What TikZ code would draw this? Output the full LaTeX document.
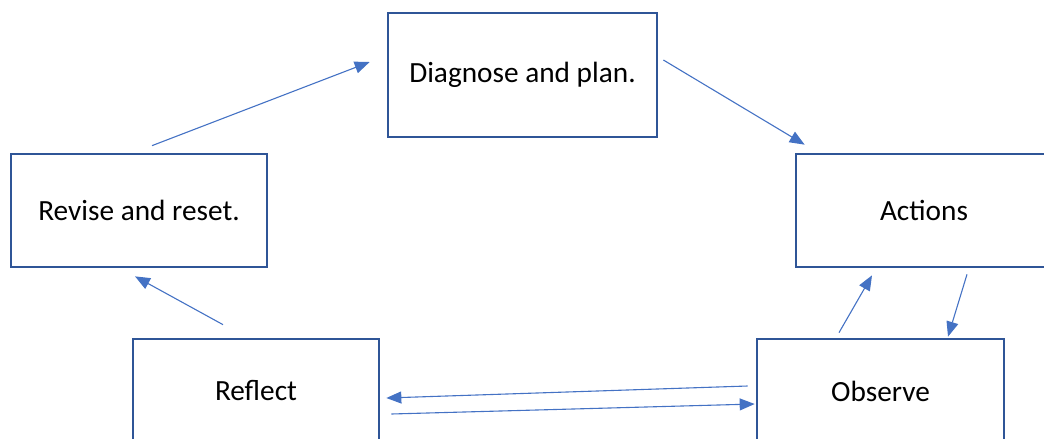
\documentclass[tikz,border=0pt]{standalone}
\usepackage{fontspec}
\setmainfont{Carlito}
\usetikzlibrary{calc,arrows.meta}
\definecolor{boxline}{HTML}{2F5597}
\definecolor{arrowline}{HTML}{4472C4}
\begin{document}
\begin{tikzpicture}[x=1pt,y=-1pt,
  stage/.style={draw=boxline,line width=2.7pt,fill=white,inner sep=0pt,
    font=\fontsize{29.3}{34}\selectfont,text=black},
  flow/.style={draw=arrowline,line width=1.1pt,
    -{Triangle[length=15pt,width=12pt]}}]
\useasboundingbox (0,0) rectangle (1044,439);
\clip (0,0) rectangle (1044,439);

% the five stages of the cycle
\node[stage,minimum width=269pt,minimum height=124pt] (diag) at (522.5,75) {Diagnose and plan.};
\node[stage,minimum width=256pt,minimum height=113pt] (rev)  at (139,210.5) {Revise and reset.};
\node[stage,minimum width=256pt,minimum height=113pt] (act)  at (924,210.5) {Actions};
\node[stage,minimum width=246pt,minimum height=104pt] (refl) at (256,391) {Reflect};
\node[stage,minimum width=247pt,minimum height=104pt] (obs)  at (880.5,391) {Observe};

% connectors between the stages
\draw[flow] ($(rev.north)+(13,-7)$) -- ($(diag.west)+(-17,-13)$);
\draw[flow] ($(diag.east)+(5,-15)$) -- ($(act.north west)+(10,-8)$);
\draw[flow] ($(act.south)+(43,6)$) -- ($(obs.north)+(67.5,-1)$);
\draw[flow] ($(obs.north)+(-41.5,-5)$) -- ($(act.south)+(-52,7)$);
\draw[flow] ($(obs.west)+(-8,-5)$) -- ($(refl.east)+(6,7)$);
\draw[flow] ($(refl.east)+(11,23)$) -- ($(obs.west)+(-1,13)$);
\draw[flow] ($(refl.north)+(-33,-13)$) -- ($(rev.south)+(-4,8)$);
\end{tikzpicture}
\end{document}
